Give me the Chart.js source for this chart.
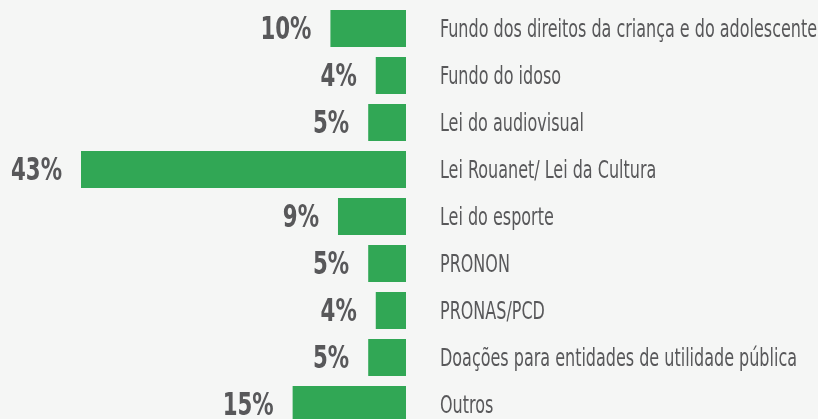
<!DOCTYPE html>
<html>
<head>
<meta charset="utf-8">
<script src="https://cdn.jsdelivr.net/npm/chart.js@4"></script>
<style>
  html, body { margin: 0; padding: 0; background: #f5f6f5; overflow: hidden; }
  #wrap { position: relative; width: 818px; height: 430px; }
</style>
</head>
<body>
<div id="wrap"><canvas id="chart"></canvas></div>
<script>
// categorias e valores (%)
const categories = [
  'Fundo dos direitos da criança e do adolescente',
  'Fundo do idoso',
  'Lei do audiovisual',
  'Lei Rouanet/ Lei da Cultura',
  'Lei do esporte',
  'PRONON',
  'PRONAS/PCD',
  'Doações para entidades de utilidade pública',
  'Outros'
];
const values = [10, 4, 5, 43, 9, 5, 4, 5, 15];

const GREEN = '#31a755';
const TEXT = '#58585a';
const VALUE_FONT = 'bold 32px "DejaVu Sans Condensed", "DejaVu Sans", sans-serif';
const CAT_FONT = '24px "DejaVu Sans Condensed", "DejaVu Sans", sans-serif';

// texto estreito: comprime horizontalmente para imitar a fonte condensada
function narrowText(ctx, text, x, y, sx, align) {
  ctx.save();
  ctx.translate(x, y);
  ctx.scale(sx, 1);
  ctx.textAlign = align;
  ctx.fillText(text, 0, 0);
  ctx.restore();
}

const labelPlugin = {
  id: 'labels',
  afterDatasetsDraw(chart) {
    const { ctx, scales: { x } } = chart;
    const meta = chart.getDatasetMeta(0);
    ctx.save();
    ctx.textBaseline = 'middle';
    ctx.fillStyle = TEXT;
    ctx.font = VALUE_FONT;
    const sxVal = 51 / ctx.measureText('10%').width;
    ctx.font = CAT_FONT;
    const sxCat = 357 / ctx.measureText(categories[7]).width;
    meta.data.forEach((bar, i) => {
      const yc = bar.y;
      ctx.font = VALUE_FONT;
      narrowText(ctx, values[i] + '%', x.getPixelForValue(values[i]) - 19, yc + 2, sxVal, 'right');
      ctx.font = CAT_FONT;
      narrowText(ctx, categories[i], x.getPixelForValue(0) + 34, yc + 2, sxCat, 'left');
    });
    ctx.restore();
  }
};

new Chart(document.getElementById('chart'), {
  type: 'bar',
  data: {
    labels: categories,
    datasets: [{
      data: values,
      backgroundColor: GREEN,
      borderWidth: 0,
      categoryPercentage: 1,
      barPercentage: 0.787
    }]
  },
  options: {
    indexAxis: 'y',
    responsive: true,
    maintainAspectRatio: false,
    animation: false,
    layout: { padding: { top: 5, bottom: 2, left: 81, right: 412 } },
    plugins: { legend: { display: false }, tooltip: { enabled: false } },
    scales: {
      x: { reverse: true, min: 0, max: 43, display: false },
      y: { display: false }
    }
  },
  plugins: [labelPlugin]
});
</script>
</body>
</html>
